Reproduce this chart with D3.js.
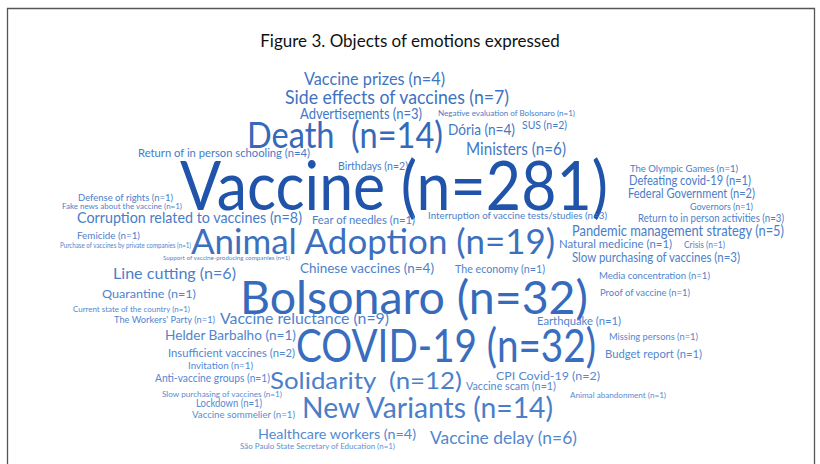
<!DOCTYPE html>
<meta charset="utf-8">
<style>
    body { margin: 0; background: #fff; }
    .word { font-family: Lato, "Noto Sans", sans-serif; white-space: pre; }
    .title { font-family: Lato, sans-serif; font-size: 17px; fill: #111; }
</style>
<svg width="820" height="464"></svg>
<script src="https://cdn.jsdelivr.net/npm/d3@7/dist/d3.min.js"></script>
<script>

    // topics and their counts
    var topics = ["Vaccine prizes", "Side effects of vaccines", "Advertisements", "Negative evaluation of Bolsonaro",
        "Dória", "SUS", "Death ", "Ministers", "Return of in person schooling", "Birthdays", "Vaccine",
        "The Olympic Games", "Defeating covid-19", "Federal Government", "Governors", "Return to in person activities",
        "Defense of rights", "Fake news about the vaccine", "Corruption related to vaccines", "Fear of needles",
        "Interruption of vaccine tests/studies", "Pandemic management strategy", "Femicide",
        "Purchase of vaccines by private companies", "Animal Adoption", "Support of vaccine-producing companies",
        "Natural medicine", "Crisis", "Slow purchasing of vaccines", "Line cutting", "Chinese vaccines",
        "The economy", "Media concentration", "Bolsonaro", "Quarantine", "Proof of vaccine",
        "Current state of the country", "The Workers' Party", "Vaccine reluctance", "Earthquake",
        "Helder Barbalho", "COVID-19", "Missing persons", "Insufficient vaccines", "Budget report", "Invitation",
        "Anti-vaccine groups", "Solidarity ", "CPI Covid-19", "Vaccine scam", "Animal abandonment",
        "Slow purchasing of vaccines", "Lockdown", "New Variants", "Vaccine sommelier", "Healthcare workers",
        "Vaccine delay", "São Paulo State Secretary of Education"];

    var counts = [4, 7, 3, 1, 4, 2, 14, 6, 4, 2, 281, 1, 1, 2, 1, 3, 1, 1, 8, 1, 3, 5, 1, 1, 19, 1,
        1, 1, 3, 6, 4, 1, 1, 32, 1, 1, 1, 1, 9, 1, 1, 32, 1, 2, 1, 1, 1, 12, 2, 1, 1, 1, 1, 14, 1, 4, 6, 1];

    // cloud layout: [left, right, baseline, font size]
    var placement = [
        [304, 445, 85, 17], [285, 509, 104, 20], [300, 422, 119, 15], [438, 575, 116, 8],
        [448, 515, 135, 15], [522, 567, 129, 12], [247, 443, 148, 36], [466, 566, 155, 17],
        [138, 310, 157, 12], [338, 408, 170, 11], [180, 608, 210, 68], [630, 738, 172, 10],
        [629, 751, 185, 13], [628, 755, 198, 13], [690, 753, 210, 10], [638, 784, 222, 11],
        [78, 173, 201, 10], [62, 182, 209, 8], [77, 302, 223, 16], [312, 415, 224, 11],
        [428, 607, 219, 10], [572, 784, 236, 15], [77, 140, 239, 10], [60, 191, 248, 7],
        [191, 555, 254, 34], [163, 290, 260, 6.5], [559, 672, 248, 11], [684, 725, 248, 10],
        [572, 740, 262, 13], [113, 236, 279, 16], [300, 434, 273, 13], [455, 545, 273, 11],
        [599, 710, 279, 10], [240, 588, 314, 46], [102, 196, 298, 12], [600, 690, 296, 10],
        [73, 190, 312, 8], [114, 215, 323, 10], [220, 389, 324, 16], [537, 621, 325, 11],
        [165, 296, 340, 14], [296, 596, 362, 46], [609, 698, 340, 10], [168, 295, 357, 12],
        [605, 702, 358, 11], [188, 253, 369, 10], [155, 270, 382, 11], [270, 462, 389, 24],
        [496, 600, 380, 12], [466, 556, 390, 11], [570, 666, 398, 8], [162, 282, 397, 8],
        [196, 262, 407, 11], [302, 553, 418, 28], [192, 295, 418, 9], [258, 416, 439, 14],
        [430, 577, 444, 17], [240, 395, 449, 7.5]
    ];

    var svg = d3.select("svg"),
        width = +svg.attr("width"),
        height = +svg.attr("height");

    var x = d3.scaleLinear().domain([0, 820]).range([0, width]),
        y = d3.scaleLinear().domain([0, 464]).range([0, height]);

    // frame around the figure
    svg.append("path")
        .attr("d", "M7.5," + height + "V8.5H814.5V" + height)
        .attr("fill", "none")
        .attr("stroke", "#555")
        .attr("stroke-width", 1.3);

    svg.append("text")
        .attr("class", "title")
        .attr("x", width / 2)
        .attr("y", 47)
        .attr("text-anchor", "middle")
        .text("Figure 3. Objects of emotions expressed");

    var data = topics.map(function(t, i) {
        var p = placement[i];
        return {label: t + " (n=" + counts[i] + ")", n: counts[i], x0: p[0], x1: p[1], y: p[2], size: p[3]};
    });

    // bigger words come out darker, lower words a bit lighter
    var shade = d3.scaleLinear().domain([6, 70]).range([1, 0]).clamp(true),
        drift = d3.scaleLinear().domain([80, 450]).range([0, 0.25]);
    var color = function(d) {
        var t = Math.min(1, 0.15 + 0.6 * shade(d.size) + drift(d.y));
        return d3.interpolateRgb("#0b3f9c", "#5c90d6")(t);
    };

    svg.selectAll(".word")
        .data(data)
        .enter().append("text")
        .attr("class", "word")
        .attr("x", function(d) { return x(d.x0); })
        .attr("y", function(d) { return y(d.y); })
        .attr("textLength", function(d) { return x(d.x1) - x(d.x0); })
        .attr("lengthAdjust", "spacingAndGlyphs")
        .style("font-size", function(d) { return d.size + "px"; })
        .style("fill", color)
        .text(function(d) { return d.label; });

</script>
